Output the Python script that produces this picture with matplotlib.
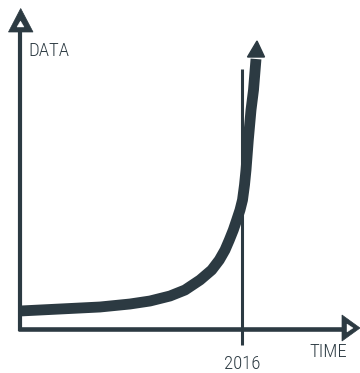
import matplotlib.pyplot as plt
from matplotlib.patches import Polygon
from matplotlib import font_manager as fm

ink = '#2c3a42'

# exponential growth curve (time, data)
time = [20, 60, 100, 130, 150, 170, 185, 200, 211.7, 219.3, 225, 229.3, 233.3,
        236.7, 240, 242.5, 244.5, 246, 248.3, 251, 253.5, 256]
data = [62, 64, 66, 69, 72, 77, 83, 93, 103, 113, 123, 133, 143,
        153, 163, 173, 188, 203, 233, 263, 283, 314]

x0, y0 = 20, 44          # origin of the axes
x_end, y_end = 342, 341  # where the axis arrows start
mark_year = 2016
mark_x = 242

# pick a condensed face if one is installed
names = sorted({f.name for f in fm.fontManager.ttflist})
narrow = [n for n in names if 'Condensed' in n or 'Narrow' in n]
pref = [n for n in narrow if n.startswith('Roboto')] + narrow
family = [pref[0], 'DejaVu Sans'] if pref else ['DejaVu Sans']

fig = plt.figure(figsize=(3.6, 3.73), dpi=100)
ax = fig.add_axes([0, 0, 1, 1])
ax.set_xlim(0, 360)
ax.set_ylim(0, 373)
ax.axis('off')

# axes
ax.plot([x0, x0], [y0 - 2, y_end], color=ink, lw=3, solid_capstyle='butt')
ax.plot([x0 - 2, x_end], [y0, y0], color=ink, lw=3.3, solid_capstyle='butt')


def open_head(pts, hole):
    ax.add_patch(Polygon(pts, closed=True, fc=ink, ec=ink, lw=0.5))
    ax.add_patch(Polygon(hole, closed=True, fc='white', ec='white', lw=0.3))


# open arrowheads: dark triangle with a small white hole
open_head([(x0 - 11.5, y_end), (x0 + 13, y_end), (x0 + 0.7, y_end + 23.5)],
          [(x0 - 3, y_end + 5), (x0 + 4, y_end + 5), (x0 + 0.5, y_end + 11)])
open_head([(x_end, y0 + 14), (x_end, y0 - 12), (x_end + 18, y0 + 1)],
          [(x_end + 5, y0 + 5), (x_end + 5, y0 - 3), (x_end + 11, y0 + 1)])

# 2016 marker line
ax.plot([mark_x, mark_x], [28, 304], color=ink, lw=2.2, solid_capstyle='butt')

# growth curve
ax.plot(time, data, color=ink, lw=7.8, solid_capstyle='butt', solid_joinstyle='round')
tip = Polygon([(time[-1] - 8.5, 316), (time[-1] + 8.5, 316), (time[-1] + 1, 332)], closed=True,
              fc=ink, ec=ink, lw=1)
ax.add_patch(tip)

font = dict(family=family, color=ink, fontsize=13.5, weight='light')
ax.text(28.5, 316.5, 'DATA', ha='left', va='baseline', **font)
ax.text(309, 16, 'TIME', ha='left', va='baseline', **font)
ax.text(mark_x, 4, str(mark_year), ha='center', va='baseline', **font)

fig.savefig('out.png', dpi=100)
